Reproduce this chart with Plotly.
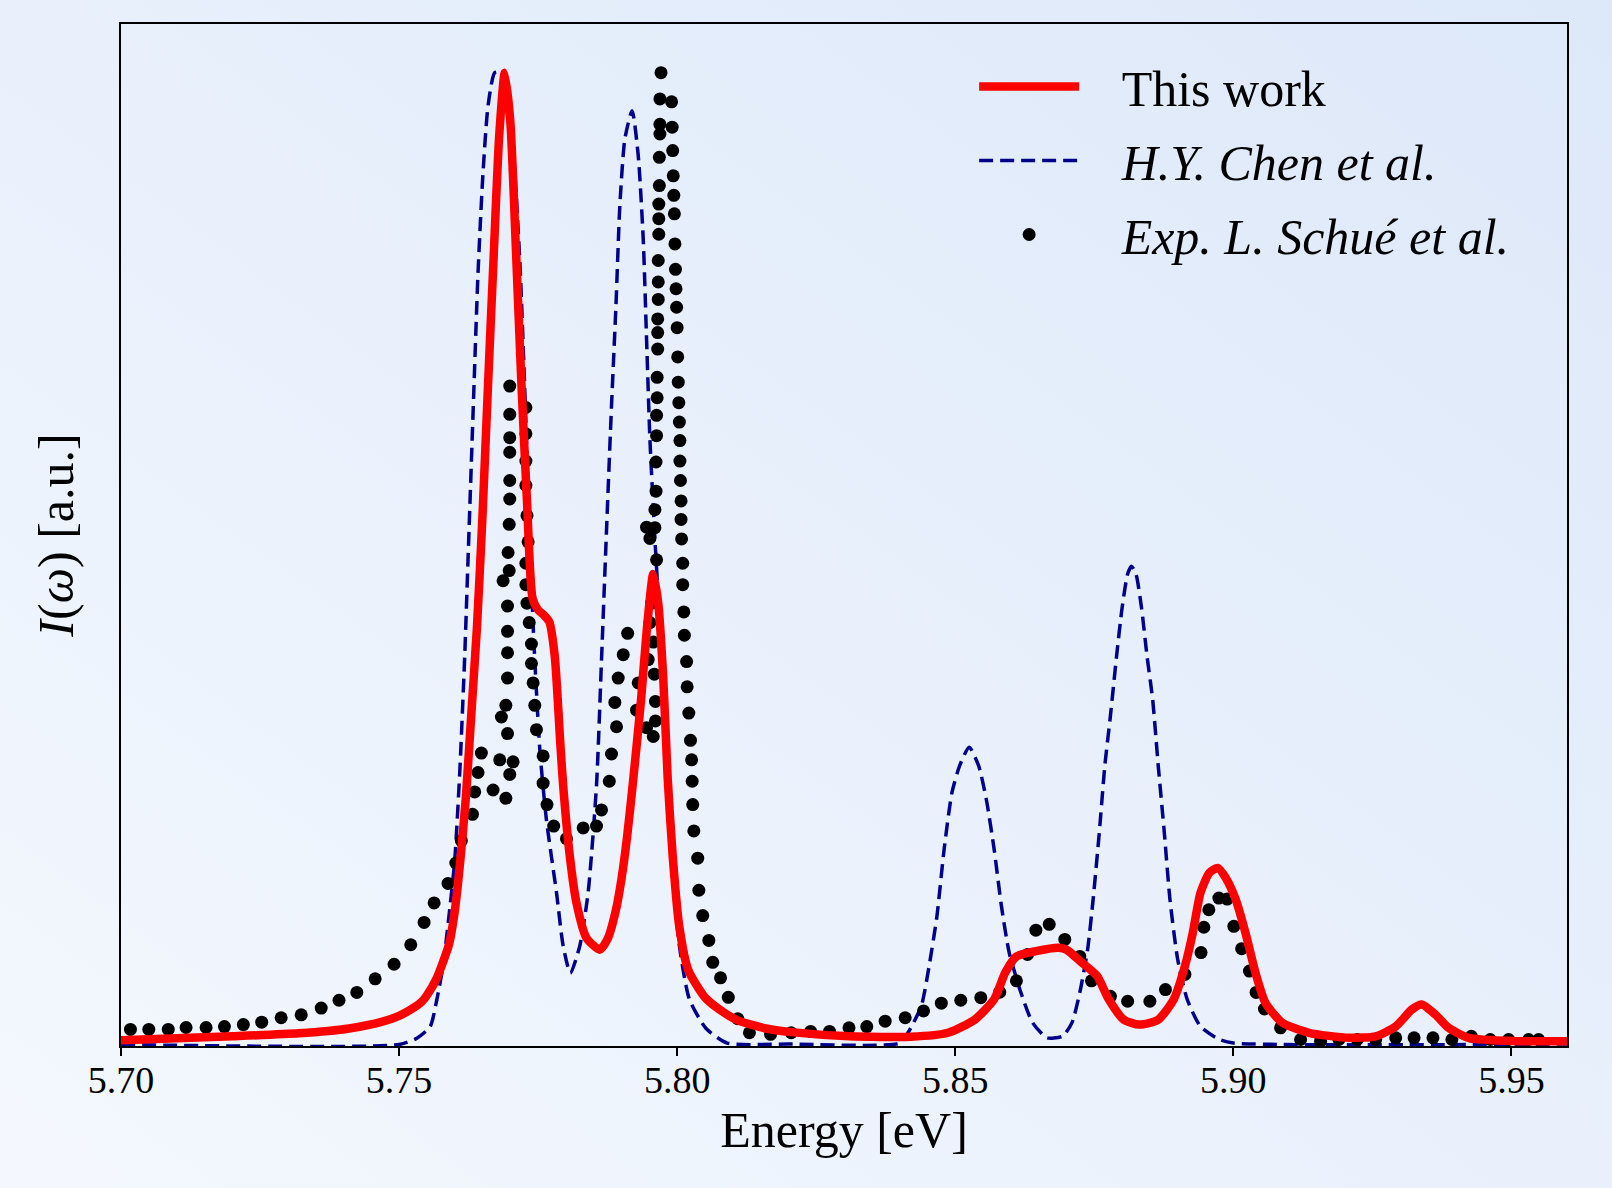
import base64
import plotly.graph_objects as go

# ---------------- data ----------------
# "This work" (red solid line)
work_E = [5.700, 5.710, 5.720, 5.732, 5.741, 5.747, 5.750, 5.752, 5.754, 5.755,
          5.7568, 5.759, 5.760, 5.761, 5.762, 5.763, 5.764, 5.765, 5.766, 5.767,
          5.768, 5.769, 5.770, 5.771, 5.772, 5.773, 5.774, 5.775, 5.776, 5.777,
          5.778, 5.779, 5.7795, 5.7807, 5.7819, 5.7837, 5.7861, 5.7875, 5.789, 5.790,
          5.791, 5.792, 5.7935, 5.7945, 5.7957, 5.7966, 5.7975, 5.7983, 5.7992, 5.8004,
          5.802, 5.805, 5.808, 5.811, 5.816, 5.821, 5.831, 5.842, 5.8487, 5.8535,
          5.857, 5.859, 5.861, 5.8645, 5.8686, 5.870, 5.8728, 5.8755, 5.8776, 5.8803,
          5.8831, 5.8865, 5.8893, 5.8913, 5.8927, 5.8941, 5.8957, 5.8972, 5.8986, 5.9004,
          5.9022, 5.904, 5.9058, 5.9088, 5.9136, 5.9208, 5.9256, 5.9292, 5.9321, 5.9339,
          5.9364, 5.9387, 5.9423, 5.9507, 5.960]
work_I = [0.006, 0.008, 0.010, 0.013, 0.018, 0.025, 0.031, 0.037, 0.045, 0.052,
          0.070, 0.105, 0.138, 0.190, 0.255, 0.342, 0.430, 0.545, 0.680, 0.810,
          0.935, 1.000, 0.950, 0.820, 0.680, 0.560, 0.460, 0.448, 0.443, 0.436,
          0.400, 0.310, 0.268, 0.195, 0.147, 0.111, 0.099, 0.110, 0.140, 0.172,
          0.215, 0.268, 0.355, 0.425, 0.485, 0.455, 0.378, 0.275, 0.195, 0.122,
          0.078, 0.050, 0.036, 0.026, 0.018, 0.014, 0.010, 0.0095, 0.0136, 0.027,
          0.048, 0.0755, 0.092, 0.0975, 0.101, 0.099, 0.0855, 0.072, 0.048, 0.027,
          0.022, 0.027, 0.048, 0.082, 0.116, 0.1575, 0.178, 0.183, 0.173, 0.151,
          0.116, 0.075, 0.044, 0.024, 0.0136, 0.0084, 0.010, 0.020, 0.0375, 0.0427,
          0.032, 0.0187, 0.0084, 0.005, 0.005]

# "H.Y. Chen et al." (blue dashed line)
chen_E = [5.700, 5.750, 5.7532, 5.7556, 5.7568, 5.7579, 5.7591, 5.7600, 5.7609, 5.7618,
          5.7624, 5.7633, 5.7642, 5.7651, 5.7660, 5.7672, 5.7684, 5.7696, 5.7708, 5.7718,
          5.7727, 5.7735, 5.7742, 5.7753, 5.7765, 5.7783, 5.7795, 5.7808, 5.7825, 5.7840,
          5.7855, 5.7864, 5.7873, 5.7882, 5.7890, 5.7897, 5.7906, 5.7919, 5.7930, 5.7939,
          5.7945, 5.7951, 5.7960, 5.797, 5.798, 5.799, 5.8004, 5.8022, 5.8052, 5.809,
          5.820, 5.840, 5.8415, 5.8439, 5.8453, 5.8467, 5.8480, 5.8494, 5.8508, 5.8525,
          5.8542, 5.8556, 5.8570, 5.8583, 5.8597, 5.8618, 5.8639, 5.8665, 5.8693, 5.8710,
          5.8724, 5.8738, 5.8748, 5.8759, 5.8769, 5.8779, 5.8790, 5.8800, 5.8810, 5.8817,
          5.8825, 5.8835, 5.8845, 5.8855, 5.8865, 5.8876, 5.8886, 5.8900, 5.8917, 5.8941,
          5.8975, 5.900, 5.960]
chen_I = [0.0015, 0.0015, 0.008, 0.020, 0.048, 0.082, 0.140, 0.190, 0.280, 0.400,
          0.500, 0.650, 0.795, 0.898, 0.966, 1.000, 1.000, 0.966, 0.898, 0.795,
          0.658, 0.520, 0.420, 0.305, 0.232, 0.158, 0.103, 0.075, 0.103, 0.158,
          0.268, 0.397, 0.530, 0.658, 0.761, 0.864, 0.932, 0.961, 0.915, 0.829,
          0.726, 0.624, 0.521, 0.420, 0.290, 0.190, 0.103, 0.048, 0.018, 0.003,
          0.002, 0.003, 0.0136, 0.041, 0.082, 0.133, 0.202, 0.260, 0.288, 0.307,
          0.288, 0.253, 0.202, 0.144, 0.096, 0.055, 0.024, 0.0084, 0.010, 0.024,
          0.055, 0.099, 0.151, 0.219, 0.288, 0.339, 0.400, 0.450, 0.485, 0.493,
          0.485, 0.450, 0.400, 0.356, 0.288, 0.219, 0.151, 0.089, 0.048, 0.020,
          0.0067, 0.003, 0.002]

# "Exp. L. Schue et al." (black dots)
exp_E = [5.7017, 5.7050, 5.7085, 5.7117, 5.7153, 5.7186, 5.7220, 5.7253, 5.7288, 5.7324,
         5.7360, 5.7392, 5.7424, 5.7457, 5.7491, 5.7521, 5.7545, 5.7563, 5.7588, 5.7602,
         5.7612, 5.7632, 5.7636, 5.7642, 5.7648,
         5.7669, 5.7681, 5.7692, 5.7699, 5.7705,
         5.7684, 5.7692, 5.7695, 5.7695, 5.7695, 5.7695, 5.7695, 5.7687, 5.7698, 5.7696,
         5.7698, 5.7699, 5.7699, 5.7699, 5.7699, 5.7699, 5.7699,
         5.7728, 5.7728, 5.7728, 5.7728, 5.7730, 5.7732, 5.7728, 5.7728, 5.7730, 5.7734,
         5.7738, 5.7738, 5.7741, 5.7744, 5.7747, 5.7759, 5.7759, 5.7766, 5.7778, 5.7801,
         5.7831, 5.7855, 5.7864, 5.7878, 5.7882, 5.7891, 5.7888, 5.7894, 5.7903, 5.7911,
         5.7930, 5.7927, 5.7945, 5.7957, 5.7961, 5.7961, 5.7959, 5.7948, 5.7957, 5.7954,
         5.7951, 5.7963, 5.7951, 5.7960, 5.7960, 5.7945,
         5.7962, 5.7962, 5.7963, 5.7963, 5.7964, 5.7964, 5.7965, 5.7965, 5.7965, 5.7966,
         5.7966, 5.7966, 5.7967, 5.7967, 5.7967, 5.7968, 5.7968, 5.7969, 5.7969, 5.7969,
         5.7971,
         5.7990, 5.7991, 5.7992, 5.7993, 5.7994, 5.7995, 5.7996, 5.7997, 5.7998, 5.7999,
         5.8000, 5.8001, 5.8002, 5.8003, 5.8004, 5.8005, 5.8005, 5.8006, 5.8007, 5.8007,
         5.8008, 5.8010, 5.8010, 5.8012, 5.8013, 5.8017, 5.8018, 5.8021, 5.8024, 5.8026,
         5.8027, 5.8028, 5.8030, 5.8037, 5.8039, 5.8046, 5.8057, 5.8064, 5.8078, 5.8092,
         5.8109, 5.8130,
         5.8168, 5.8205, 5.8240, 5.8274, 5.8309, 5.8341, 5.8374, 5.8410, 5.8443, 5.8475,
         5.8510, 5.8546, 5.8580, 5.8610, 5.8630, 5.8645, 5.8669, 5.8697, 5.8724, 5.8745,
         5.8779, 5.8810, 5.8850, 5.8878, 5.8913, 5.8942, 5.8947, 5.8956, 5.8974, 5.8989,
         5.9001, 5.9015, 5.9029, 5.9041, 5.9056, 5.9085, 5.9121, 5.9157, 5.9190, 5.9223,
         5.9256, 5.9292, 5.9325, 5.9359, 5.9393, 5.9428, 5.9462, 5.9495, 5.9531, 5.9549]
exp_I = [0.017, 0.017, 0.017, 0.019, 0.019, 0.020, 0.022, 0.0245, 0.029, 0.032,
         0.039, 0.047, 0.055, 0.069, 0.084, 0.104, 0.127, 0.147, 0.167, 0.188,
         0.211, 0.238, 0.261, 0.281, 0.301,
         0.263, 0.294, 0.2545, 0.279, 0.292,
         0.338, 0.350, 0.321, 0.378, 0.404, 0.426, 0.452, 0.478, 0.4885, 0.507,
         0.536, 0.562, 0.581, 0.610, 0.625, 0.649, 0.678,
         0.656, 0.629, 0.601, 0.576, 0.545, 0.518, 0.496, 0.474, 0.455, 0.435,
         0.413, 0.393, 0.373, 0.350, 0.325, 0.298, 0.270, 0.248, 0.226, 0.213,
         0.224, 0.226, 0.2425, 0.272, 0.300, 0.328, 0.353, 0.378, 0.402, 0.424,
         0.373, 0.345, 0.327, 0.318, 0.334, 0.354, 0.382, 0.397, 0.415, 0.455,
         0.435, 0.4995, 0.5215, 0.5325, 0.551, 0.533,
         0.570, 0.600, 0.627, 0.648, 0.666, 0.687, 0.716, 0.733, 0.747, 0.767,
         0.785, 0.807, 0.834, 0.850, 0.865, 0.884, 0.913, 0.937, 0.947, 0.973,
         1.000,
         0.970, 0.944, 0.920, 0.894, 0.874, 0.855, 0.824, 0.798, 0.778, 0.759,
         0.738, 0.708, 0.682, 0.661, 0.641, 0.622, 0.601, 0.581, 0.560, 0.541,
         0.521, 0.496, 0.474, 0.446, 0.422, 0.395, 0.369, 0.342, 0.314, 0.294,
         0.272, 0.248, 0.221, 0.193, 0.160, 0.134, 0.1085, 0.086, 0.070, 0.050,
         0.028, 0.0136,
         0.012, 0.0136, 0.015, 0.015, 0.0187, 0.020, 0.0255, 0.029, 0.036, 0.044,
         0.047, 0.0496, 0.0553, 0.067, 0.094, 0.119, 0.125, 0.1095, 0.092, 0.067,
         0.051, 0.046, 0.046, 0.058, 0.0735, 0.096, 0.122, 0.140, 0.152, 0.151,
         0.123, 0.100, 0.077, 0.055, 0.038, 0.0187, 0.0067, 0.005, 0.0067, 0.0067,
         0.0067, 0.0084, 0.0084, 0.0084, 0.0067, 0.010, 0.0067, 0.0067, 0.0067, 0.0067]

x_ticks = [5.70, 5.75, 5.80, 5.85, 5.90, 5.95]
x_tick_labels = ["5.70", "5.75", "5.80", "5.85", "5.90", "5.95"]

# ---------------- figure ----------------
FONT = "Liberation Serif, Times New Roman, serif"
W, H = 1612, 1188
ML, MR, MT, MB = 121, 45, 24, 142
PW, PH = W - ML - MR, H - MT - MB
GAP = "\u00a0\u00a0\u00a0"

fig = go.Figure()

fig.add_trace(go.Scatter(
    x=chen_E, y=chen_I, mode="lines", name=GAP + "<i>H.Y. Chen et al.</i>",
    line=dict(color="#00008b", width=3.5, dash="14px,7px", shape="spline", smoothing=0.6),
    legendrank=2, legendgroup="b"))
fig.add_trace(go.Scatter(
    x=exp_E, y=exp_I, mode="markers", name=GAP + "<i>Exp. L. Schué et al.</i>",
    marker=dict(color="black", size=13, line=dict(width=0)),
    legendrank=3, legendgroup="c"))
fig.add_trace(go.Scatter(
    x=work_E, y=work_I, mode="lines", name=GAP + "This work",
    line=dict(color="#ff0000", width=8.5, shape="spline", smoothing=0.6),
    legendrank=1, legendgroup="a"))

svg = ('<svg xmlns="http://www.w3.org/2000/svg" width="1612" height="1188">'
       '<defs><linearGradient id="g" x1="0" y1="1" x2="1" y2="0">'
       '<stop offset="0" stop-color="#f4f8fe"/><stop offset="1" stop-color="#dde8f9"/>'
       '</linearGradient></defs><rect width="1612" height="1188" fill="url(#g)"/></svg>')
src = "data:image/svg+xml;base64," + base64.b64encode(svg.encode()).decode()

fig.update_layout(
    width=W, height=H,
    margin=dict(l=ML, r=MR, t=MT, b=MB),
    paper_bgcolor="#eaf1fb",
    plot_bgcolor="rgba(0,0,0,0)",
    font=dict(family=FONT, color="black"),
    images=[dict(source=src, xref="paper", yref="paper",
                 x=-ML / PW, y=1 + MT / PH, sizex=W / PW, sizey=H / PH,
                 sizing="stretch", xanchor="left", yanchor="top", layer="below")],
    showlegend=True,
    legend=dict(x=0.59, y=0.977, xanchor="left", yanchor="top",
                bgcolor="rgba(0,0,0,0)", borderwidth=0,
                font=dict(family=FONT, size=50, color="black"),
                traceorder="grouped", tracegroupgap=6, itemwidth=100),
    xaxis=dict(range=[5.70, 5.96], tickvals=x_ticks, ticktext=x_tick_labels,
               ticks="outside", ticklen=8, tickwidth=1.5, tickcolor="black",
               ticklabelstandoff=-8,
               showline=True, mirror=True, linecolor="black", linewidth=1.5,
               showgrid=False, zeroline=False,
               tickfont=dict(family=FONT, size=38, color="black"),
               title=dict(text="Energy [eV]", font=dict(family=FONT, size=50, color="black"),
                          standoff=12)),
    yaxis=dict(range=[0, 1.05], showticklabels=False, ticks="",
               showline=True, mirror=True, linecolor="black", linewidth=1.5,
               showgrid=False, zeroline=False,
               title=dict(text="<i>I</i>(<i>ω</i>) [a.u.]",
                          font=dict(family=FONT, size=50, color="black"),
                          standoff=30)),
)

fig.write_html("out.html")
